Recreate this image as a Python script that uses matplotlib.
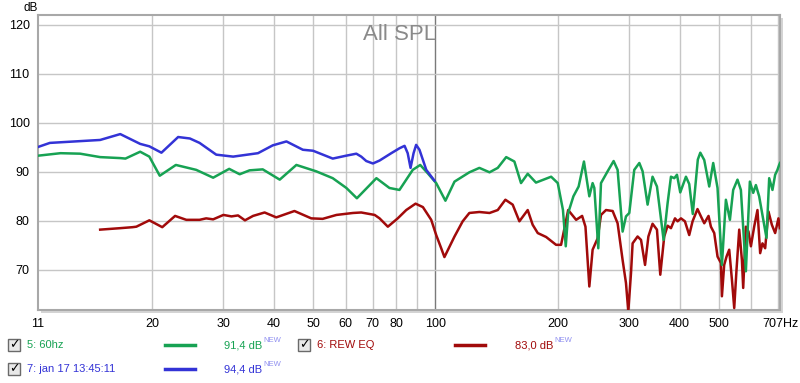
import matplotlib.pyplot as plt
from matplotlib.patches import Rectangle
from matplotlib.lines import Line2D
from matplotlib.ticker import NullLocator

plt.rcParams['font.family'] = ['Liberation Sans', 'DejaVu Sans']

# --- data ---
green_f = [10.5, 11.9, 13.3, 14.9, 16.7, 17.2, 18.7, 19.7, 20.9, 22.9, 25.7, 28.3, 31.0, 32.9, 34.8,
           37.5, 41.3, 45.4, 50.8, 55.8, 60.3, 64.0, 71.5, 77.0, 81.5, 87.9, 91.7, 95.7, 100.4, 105.8,
           111.4, 121.2, 128.3, 135.9, 142.4, 149.4, 156.5, 162.5, 168.8, 176.9, 192.8, 200.2, 206.2,
           209.5, 212.4, 218.8, 225.4, 232.3, 239.5, 244.0, 246.4, 252.0, 255.9, 265.7, 274.9, 281.2,
           289.3, 294.9, 300.5, 309.1, 318.1, 324.1, 333.4, 342.9, 351.6, 365.1, 373.5, 380.7, 388.0,
           393.9, 401.3, 414.5, 422.3, 430.9, 443.4, 449.7, 459.9, 473.1, 483.9, 495.9, 508.4, 520.0,
           532.0, 542.0, 555.4, 566.2, 582.5, 595.8, 607.2, 616.5, 628.1, 654.8, 664.9, 677.4, 687.8,
           696.8, 703.5, 707.0]
green_db = [93.3, 93.8, 93.7, 93.0, 92.8, 92.7, 94.1, 93.1, 89.2, 91.4, 90.4, 88.8, 90.6, 89.5, 90.3,
            90.5, 88.4, 91.4, 90.1, 88.7, 86.7, 84.6, 88.7, 86.7, 86.3, 90.4, 91.4, 89.7, 87.7, 84.1,
            88.0, 89.9, 90.8, 89.9, 90.8, 93.0, 92.1, 87.7, 89.6, 87.8, 89.0, 87.7, 82.2,
            74.8, 81.6, 85.0, 87.0, 92.1, 85.0, 87.7, 86.7, 74.4, 87.7, 90.1, 92.2, 90.4,
            77.8, 80.9, 81.6, 90.4, 91.8, 90.1, 83.3, 89.0, 87.0, 76.1, 83.6, 89.0, 88.7,
            89.4, 85.8, 89.0, 87.5, 81.4, 92.5, 93.9, 92.4, 87.0, 91.8, 86.7, 71.0, 84.3,
            80.2, 86.3, 88.4, 86.3, 69.7, 88.0, 85.7, 87.3, 85.0, 76.5, 88.7, 86.3, 89.4,
            90.4, 91.4, 91.8]

red_f = [14.9, 16.7, 17.9, 18.3, 19.7, 21.2, 22.8, 24.3, 26.2, 27.2,
         28.3, 30.0, 31.4, 32.6, 33.9, 35.5, 37.9, 40.5, 44.9, 49.4,
         52.7, 57.0, 62.6, 65.6, 70.8, 72.8, 76.3, 80.7, 84.7, 89.3,
         93.1, 97.6, 100.4, 103.3, 105.2, 111.4, 116.7, 121.2, 128.3, 135.9,
         142.4, 148.7, 155.0, 161.0, 168.8, 173.6, 178.7, 187.4, 198.3, 204.0,
         212.4, 222.2, 229.9, 234.3, 239.5, 244.0, 251.0, 255.9, 263.3, 273.4,
         281.2, 289.3, 294.9, 298.8, 303.4, 306.2, 315.0, 321.2, 328.6, 334.9,
         342.9, 351.6, 358.3, 366.4, 373.5, 380.7, 389.5, 395.3, 403.0, 412.1,
         422.3, 430.4, 442.6, 451.3, 459.9, 471.2, 477.6, 486.7, 495.9, 505.5,
         508.4, 515.0, 521.9, 529.9, 538.1, 545.2, 552.3, 560.9, 569.5, 573.7,
         582.5, 591.2, 599.3, 610.6, 622.1, 631.7, 640.0, 649.9, 662.2, 675.0,
         687.8, 700.7, 706.3]
red_db = [78.2, 78.5, 78.7, 78.8, 80.1, 78.7, 81.0, 80.2, 80.2, 80.5,
          80.3, 81.2, 80.9, 81.1, 80.1, 81.0, 81.7, 80.7, 82.0, 80.5,
          80.4, 81.2, 81.6, 81.7, 81.2, 80.5, 78.8, 80.5, 82.2, 83.5,
          82.8, 80.2, 77.1, 74.4, 72.6, 76.8, 79.9, 81.6, 81.8, 81.6,
          82.2, 84.3, 83.3, 79.9, 82.2, 79.2, 77.5, 76.7, 75.1, 75.1,
          82.2, 80.2, 81.0, 78.8, 66.6, 74.1, 76.4, 81.2, 82.2, 82.0,
          79.5, 72.0, 67.3, 61.5, 69.3, 75.4, 76.8, 76.1, 71.0, 76.8,
          79.4, 78.2, 69.0, 76.8, 79.0, 78.5, 80.5, 79.9, 80.5, 79.9,
          77.1, 79.9, 82.4, 80.9, 79.5, 81.0, 78.8, 77.5, 72.7, 71.4,
          64.6, 71.0, 72.7, 74.1, 68.0, 62.2, 70.0, 78.2, 72.0, 66.3,
          78.8, 77.8, 74.8, 78.8, 82.2, 73.4, 75.4, 74.4, 81.9, 79.2,
          77.5, 80.5, 78.5]

blue_f = [10.5, 11.2, 14.9, 16.7, 18.7, 19.7, 21.1, 23.2, 24.8, 26.2, 28.8, 31.7, 36.5, 39.7, 42.9,
          47.1, 49.9, 55.8, 60.3, 63.8, 65.6, 67.5, 70.1, 72.8, 77.8, 81.5, 83.9, 85.4, 86.8, 88.3,
          89.6, 91.3, 94.9, 99.4]
blue_db = [95.1, 95.9, 96.5, 97.7, 95.7, 95.2, 93.9, 97.1, 96.8, 95.9, 93.5, 93.1, 93.8, 95.4, 96.2,
           94.5, 94.3, 92.7, 93.3, 93.7, 93.1, 92.2, 91.7, 92.3, 93.8, 94.8, 95.3, 93.8, 90.8, 93.8,
           95.5, 94.5, 90.4, 88.2]

grid_freqs = [20, 30, 40, 50, 60, 70, 80, 90, 200, 300, 400, 500, 600, 700]
tick_freqs = [10.47, 20, 30, 40, 50, 60, 70, 80, 100, 200, 300, 400, 500, 707]
tick_labels = ['11', '20', '30', '40', '50', '60', '70', '80', '100', '200', '300', '400', '500', '707Hz']
y_ticks = [70, 80, 90, 100, 110, 120]

traces = [
    ('5: 60hz', '91,4 dB', '#17a253', green_f, green_db),
    ('6: REW EQ', '83,0 dB', '#a10a0a', red_f, red_db),
    ('7: jan 17 13:45:11', '94,4 dB', '#3333d6', blue_f, blue_db),
]

W, H = 800, 383
def fx(x):
    return x / W
def fy(y):
    return 1 - y / H

fig = plt.figure(figsize=(8, 3.83), dpi=100)
fig.patch.set_facecolor('white')

# shadow behind the plot frame
fig.patches.append(Rectangle((fx(41), fy(313)), 742 / W, 295 / H, transform=fig.transFigure,
                             facecolor='#d4d4d4', edgecolor='none', zorder=0))

ax = fig.add_axes([fx(38), fy(310), 742 / W, 295 / H], zorder=1)
ax.set_facecolor('white')
ax.set_xscale('log')
ax.set_xlim(10.47, 707)
ax.set_ylim(61.8, 122)

for f in grid_freqs:
    ax.axvline(f, color='#c6c6c6', lw=1, zorder=1)
ax.axvline(100, color='#7a7a7a', lw=1, zorder=1)
for v in y_ticks:
    ax.axhline(v, color='#c6c6c6', lw=1, zorder=1)

# draw order: red, green, blue
for idx in (1, 0, 2):
    name, level, col, f, db = traces[idx]
    ax.plot(f, db, color=col, lw=1.8, zorder=3, solid_joinstyle='round')

ax.xaxis.set_minor_locator(NullLocator())
ax.set_xticks(tick_freqs)
ax.set_xticklabels(tick_labels)
ax.set_yticks(y_ticks)
ax.tick_params(length=0, labelsize=9, colors='black', pad=6)
for s in ax.spines.values():
    s.set_color('#a8a8a8')
    s.set_linewidth(1.5)

fig.text(fx(23), fy(8), 'dB', fontsize=8.5, va='center', ha='left')
ax.text(0.487, 0.935, 'All SPL', transform=ax.transAxes, fontsize=16, color='#8a8a8a',
        ha='center', va='center')

# legend rows
rows = [(0, 27, 165, 224, 345), (1, 317, 455, 515, 345), (2, 27, 165, 224, 369)]
renderer = fig.canvas.get_renderer()
for idx, tx, lx, vx, ry in rows:
    name, level, col, f, db = traces[idx]
    bx = tx - 19
    fig.patches.append(Rectangle((fx(bx), fy(ry + 6)), 12 / W, 12 / H, transform=fig.transFigure,
                                 facecolor='#e8e8e8', edgecolor='#6a6a6a', lw=1))
    fig.text(fx(bx + 6), fy(ry), '\u2713', fontsize=9, ha='center', va='center',
             color='black', family='DejaVu Sans', fontweight='bold')
    fig.text(fx(tx), fy(ry), name, fontsize=8, color=col, ha='left', va='center')
    fig.lines.append(Line2D([fx(lx), fx(lx + 30)], [fy(ry), fy(ry)], transform=fig.transFigure,
                            color=col, lw=2.5))
    t = fig.text(fx(vx), fy(ry), level, fontsize=8, color=col, ha='left', va='center')
    bb = t.get_window_extent(renderer)
    fig.text(bb.x1 / W + 0.001, fy(ry - 5), 'NEW', fontsize=5.5, color='#8f8ff0',
             ha='left', va='center')

fig.savefig('out.png', dpi=100)
